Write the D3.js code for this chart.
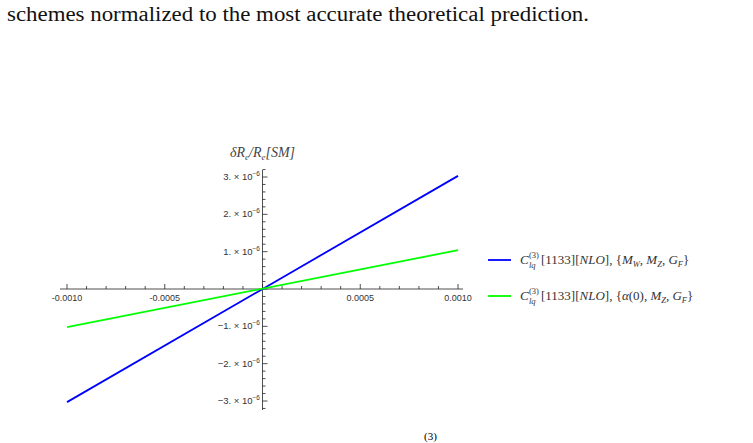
<!DOCTYPE html>
<html><head><meta charset="utf-8">
<script src="https://cdn.jsdelivr.net/npm/d3@7"></script>
<style>body{margin:0;background:#fff}</style>
</head><body>
<script>
const xEnds = [-0.001, 0.001];
const blueVals = [-3.03e-6, 3.03e-6];
const greenVals = [-1.02e-6, 1.04e-6];
const xTicks = [-0.001, -0.0005, 0.0005, 0.001];
const xTickLabels = ["-0.0010", "-0.0005", "0.0005", "0.0010"];
const yTicks = [-3e-6, -2e-6, -1e-6, 1e-6, 2e-6, 3e-6];
const yTickLabels = ["\u22123.", "\u22122.", "\u22121.", "1.", "2.", "3."];
const colors = ["#0000ff", "#00ff00"];

const width = 753, height = 443;
const svg = d3.select("body").append("svg").attr("width", width).attr("height", height);

svg.append("text").attr("x", 7).attr("y", 21)
  .attr("font-family", "Liberation Serif, serif").attr("font-size", 20).attr("fill", "#111")
  .attr("textLength", 582).attr("lengthAdjust", "spacingAndGlyphs")
  .text("schemes normalized to the most accurate theoretical prediction.");
svg.append("text").attr("x", 424).attr("y", 440)
  .attr("font-family", "Liberation Serif, serif").attr("font-size", 11).text("(3)");

const x = d3.scaleLinear().domain([-0.001, 0.001]).range([67, 458]);
const y = d3.scaleLinear().domain([-3e-6, 3e-6]).range([401, 177]);

// x axis
const gx = svg.append("g").attr("stroke", "#222").attr("stroke-width", 0.8);
gx.append("line").attr("x1", 60).attr("x2", 463).attr("y1", y(0)).attr("y2", y(0));
d3.range(-10, 11).forEach(i => {
  const v = i * 1e-4, major = i % 5 === 0;
  gx.append("line").attr("x1", x(v)).attr("x2", x(v))
    .attr("y1", y(0)).attr("y2", y(0) - (major ? 5 : 3));
});
svg.selectAll(".xt").data(xTicks).enter().append("text")
  .attr("x", d => x(d)).attr("y", y(0) + 12).attr("text-anchor", "middle")
  .attr("font-family", "Liberation Sans, Arial").attr("font-size", 9).attr("fill", "#333")
  .text((d, i) => xTickLabels[i]);

// y axis
const gy = svg.append("g").attr("stroke", "#222").attr("stroke-width", 0.8);
gy.append("line").attr("x1", x(0)).attr("x2", x(0)).attr("y1", 170).attr("y2", 410);
d3.range(-16, 17).forEach(i => {
  const v = i * 0.2e-6, major = i % 5 === 0;
  gy.append("line").attr("x1", x(0)).attr("x2", x(0) + (major ? 5 : 3))
    .attr("y1", y(v)).attr("y2", y(v));
});
const yt = svg.selectAll(".yt").data(yTicks).enter().append("text")
  .attr("x", x(0) - 10).attr("y", d => y(d) + 3).attr("text-anchor", "end")
  .attr("font-family", "Liberation Sans, Arial").attr("font-size", 9.5).attr("fill", "#333")
  .text((d, i) => yTickLabels[i] + " \u00d7 10");
svg.selectAll(".ye").data(yTicks).enter().append("text")
  .attr("x", x(0) - 10).attr("y", d => y(d) - 1)
  .attr("font-family", "Liberation Sans, Arial").attr("font-size", 6.5).attr("fill", "#333")
  .text("\u22126");

svg.append("text").attr("x", x(0)).attr("y", 157).attr("text-anchor", "middle")
  .attr("font-family", "Liberation Serif, serif").attr("font-style", "italic").attr("font-size", 14)
  .attr("fill", "#444").html("δR<tspan font-size='9' dy='3'>e</tspan><tspan dy='-3'>/R</tspan><tspan font-size='9' dy='3'>e</tspan><tspan dy='-3'>[SM]</tspan>");

// lines
const line = d3.line().x(d => x(d[0])).y(d => y(d[1]));
[blueVals, greenVals].forEach((vals, k) => {
  svg.append("path").datum(xEnds.map((v, i) => [v, vals[i]]))
    .attr("d", line).attr("stroke", colors[k]).attr("stroke-width", 1.8).attr("fill", "none");
});

// legend
const legendParts = [
  [["[1133][", 0], ["NLO", 1], ["], {", 0], ["M", 1], ["W", 2], [", ", 0], ["M", 1], ["Z", 2], [", ", 0], ["G", 1], ["F", 2], ["}", 0]],
  [["[1133][", 0], ["NLO", 1], ["], {", 0], ["α", 1], ["(0), ", 0], ["M", 1], ["Z", 2], [", ", 0], ["G", 1], ["F", 2], ["}", 0]]
];
const serif = "Liberation Serif, serif";
legendParts.forEach((parts, k) => {
  const ly = 260 + k * 36;
  svg.append("line").attr("x1", 488).attr("x2", 511).attr("y1", ly).attr("y2", ly)
    .attr("stroke", colors[k]).attr("stroke-width", 1.8);
  svg.append("text").attr("x", 520).attr("y", ly + 4).attr("font-family", serif)
    .attr("font-size", 13).attr("font-style", "italic").attr("fill", "#333").text("C");
  svg.append("text").attr("x", 529).attr("y", ly - 2).attr("font-family", serif)
    .attr("font-size", 8.5).attr("fill", "#333").text("(3)");
  svg.append("text").attr("x", 529).attr("y", ly + 8).attr("font-family", serif)
    .attr("font-size", 8.5).attr("font-style", "italic").attr("fill", "#333").text("lq");
  const t = svg.append("text").attr("x", 541).attr("y", ly + 4)
    .attr("font-family", serif).attr("font-size", 13).attr("fill", "#333");
  let prevSub = false;
  parts.forEach(([s, m]) => {
    const ts = t.append("tspan").text(s);
    if (m === 2) { ts.attr("font-size", 8.5).attr("font-style", "italic").attr("dy", 3); prevSub = true; }
    else { if (prevSub) ts.attr("dy", -3); prevSub = false; if (m === 1) ts.attr("font-style", "italic"); }
  });
});
</script>
</body></html>
